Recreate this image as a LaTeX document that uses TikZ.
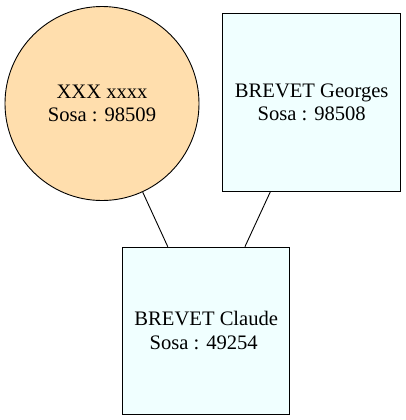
\documentclass[tikz,border=0pt]{standalone}
\usepackage{fontspec}
\setmainfont{Liberation Serif}
\definecolor{femme}{HTML}{FFDEAD}
\definecolor{homme}{HTML}{F0FFFF}
\begin{document}
\begin{tikzpicture}[x=1bp,y=-1bp,
  person/.style={draw=black,line width=0.9bp,align=center,inner sep=0pt,
    font=\fontsize{20.6bp}{23.5bp}\selectfont},
  fem/.style={person,circle,fill=femme,minimum size=194bp},
  masc/.style={person,rectangle,fill=homme},
  link/.style={line width=0.9bp}]
\useasboundingbox (0,0) rectangle (406,420);
\node[fem] (x) at (102,103.5) {XXX xxxx\\Sosa : 98509};
\node[masc,minimum size=178bp] (g) at (311.7,102.3) {BREVET Georges\\Sosa : 98508};
\node[masc,minimum size=167bp] (c) at (206.3,330.7) {BREVET Claude\\Sosa : 49254\ \ };
\draw[link] (x) -- (c);
\draw[link] (g) -- (c);
\end{tikzpicture}
\end{document}
